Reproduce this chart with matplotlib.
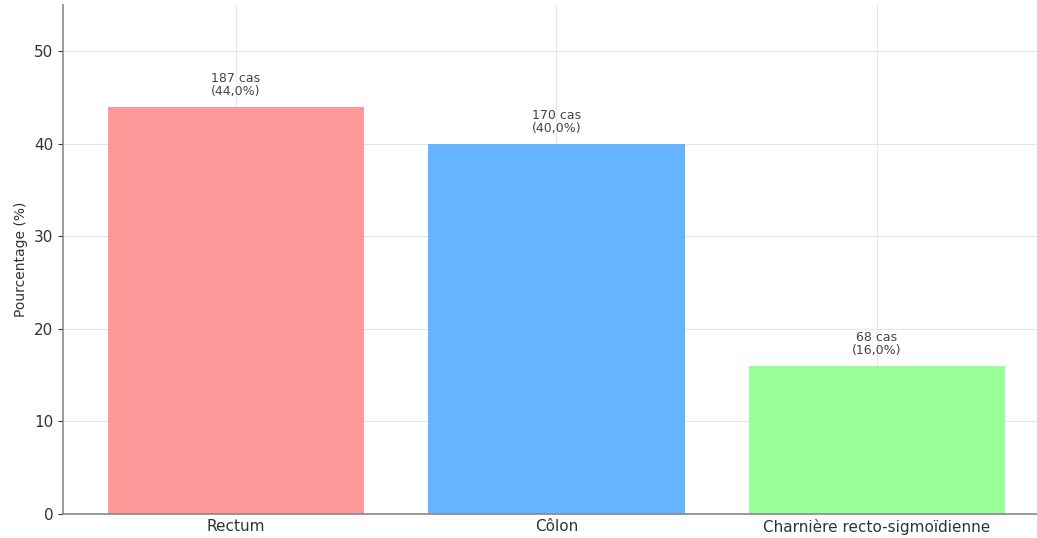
import matplotlib
matplotlib.use("Agg")
import matplotlib.pyplot as plt

categories = ["Rectum", "Côlon", "Charnière recto-sigmoïdienne"]
cases = [187, 170, 68]
percentages = [44.0, 40.0, 16.0]
colors = ["#ff9999", "#66b3ff", "#99ff99"]

fig = plt.figure(figsize=(10.37, 5.38), dpi=100)
ax = fig.add_axes([0.0608, 0.0446, 0.9392, 0.946])

x = range(len(categories))
bars = ax.bar(x, percentages, width=0.8, color=colors, zorder=2)

for bar, n, p in zip(bars, cases, percentages):
    label = f"{n} cas\n({p:.1f}%)".replace(".", ",")
    ax.text(bar.get_x() + bar.get_width() / 2, p + 1, label,
            ha="center", va="bottom", fontsize=9, color="#444444",
            linespacing=1.0)

ax.set_xticks(list(x))
ax.set_xticklabels(categories, fontsize=11, color="#333333")
ax.set_ylabel("Pourcentage (%)", fontsize=10, color="#333333")
ax.set_ylim(0, 55)
ax.set_xlim(-0.54, 2.5)
ax.set_yticks([0, 10, 20, 30, 40, 50])
ax.tick_params(axis="y", labelsize=11, colors="#333333")
ax.tick_params(axis="x", length=0)
ax.grid(True, color="#e6e6e6", linewidth=0.8, zorder=0)

for side in ["top", "right"]:
    ax.spines[side].set_visible(False)
for side in ["left", "bottom"]:
    ax.spines[side].set_color("#888888")
    ax.spines[side].set_linewidth(1.2)

fig.savefig("out.png", dpi=100)
